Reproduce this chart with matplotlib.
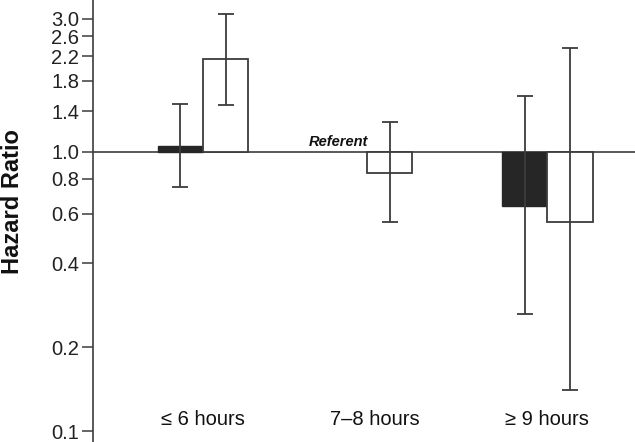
#!/usr/bin/env python3
"""Hazard ratio by sleep duration, log-scale bars hanging from 1.0."""

import matplotlib
matplotlib.use("Agg")
import matplotlib.pyplot as plt
import matplotlib.transforms as mtransforms
import numpy as np

# data (referent group has no black bar)
categories = ["\u2264 6 hours", "7\u20138 hours", "\u2265 9 hours"]
black_hr = [1.05, np.nan, 0.64]
black_lo = [0.75, np.nan, 0.263]
black_hi = [1.49, np.nan, 1.59]
white_hr = [2.15, 0.84, 0.56]
white_lo = [1.47, 0.56, 0.14]
white_hi = [3.12, 1.28, 2.36]
yticks = [0.1, 0.2, 0.4, 0.6, 0.8, 1.0, 1.4, 1.8, 2.2, 2.6, 3.0]

plt.rcParams["font.family"] = ["Liberation Sans", "DejaVu Sans"]

line_col = "#3c3c3c"
centers = np.array([0.0, 1.0, 2.1])
label_x = [0.0, 1.05, 2.1]
w = 0.275

fig = plt.figure(figsize=(6.35, 4.42), dpi=100)
ax = fig.add_axes([93 / 635, 0, 1 - 93 / 635, 1])
ax.set_yscale("log")
ax.set_ylim(0.0914, 3.5)
ax.set_xlim(-0.671, 2.634)

ax.axhline(1.0, color=line_col, lw=1.2, zorder=1)

bh = np.array(black_hr)
wh = np.array(white_hr)
okb = ~np.isnan(bh)
ax.bar((centers - w / 2)[okb], bh[okb] - 1, bottom=1, width=w,
       color="#262626", edgecolor="#262626", lw=1.0, zorder=2)
ax.bar(centers + w / 2, wh - 1, bottom=1, width=w, color="white",
       edgecolor=line_col, lw=1.3, zorder=2)

for xs, hr, lo, hi in [(centers - w / 2, black_hr, black_lo, black_hi),
                       (centers + w / 2, white_hr, white_lo, white_hi)]:
    hr = np.array(hr)
    lo = np.array(lo)
    hi = np.array(hi)
    ok = ~np.isnan(lo)
    ax.errorbar(xs[ok], hr[ok], yerr=[hr[ok] - lo[ok], hi[ok] - hr[ok]],
                fmt="none", ecolor=line_col, elinewidth=1.3, capsize=6,
                capthick=1.3, zorder=3)

ax.text(0.647, 1.025, "Referent", fontsize=10.5, fontweight="bold",
        fontstyle="italic", ha="left", va="bottom", color="#111111")

trans = mtransforms.blended_transform_factory(ax.transData, ax.transAxes)
for x, lab in zip(label_x, categories):
    ax.text(x, 0.052, lab, fontsize=14.5, ha="center", va="center",
            transform=trans, color="#111111")

ax.set_yticks(yticks)
ax.set_yticklabels([f"{t:.1f}" for t in yticks], fontsize=14.5, color="#222222")
ax.yaxis.set_minor_locator(matplotlib.ticker.NullLocator())
ax.tick_params(axis="y", length=8, width=1.1, color=line_col, pad=2)
ax.set_xticks([])

for side in ["top", "right", "bottom"]:
    ax.spines[side].set_visible(False)
ax.spines["left"].set_color(line_col)
ax.spines["left"].set_linewidth(1.2)

fig.text(13 / 635, 1 - 202 / 442, "Hazard Ratio", rotation=90, fontsize=17,
         fontweight="bold", ha="center", va="center", color="#111111")

fig.savefig("out.png", dpi=100)
